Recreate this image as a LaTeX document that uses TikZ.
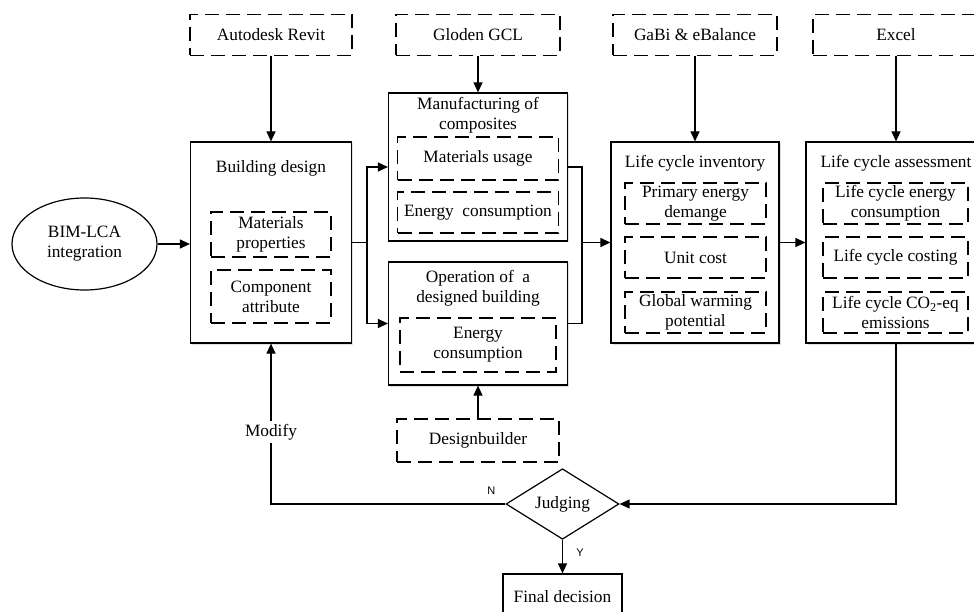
\documentclass[tikz,border=0pt]{standalone}
\usepackage{fontspec}
\setmainfont{Liberation Serif}
\setsansfont{Liberation Sans}
\usetikzlibrary{arrows.meta,shapes.geometric,shadows}

\begin{document}
\begin{tikzpicture}[x=1pt,y=-1pt,>={Triangle[length=10pt,width=9pt]},
                    line width=1.2pt,font=\fontsize{17.3}{20}\selectfont]

  \tikzstyle{tool}=[rectangle,draw,dash pattern=on 14pt off 7pt,minimum height=41pt,inner sep=2pt]
  \tikzstyle{stage}=[rectangle,draw,fill=white,drop shadow={shadow xshift=1.5pt,shadow yshift=-1.5pt,opacity=0.25}]
  \tikzstyle{item}=[rectangle,draw,dash pattern=on 14pt off 7pt,align=center,inner sep=2pt]
  \tikzstyle{title}=[align=center,inner sep=0pt]
  \tikzstyle{yesno}=[font=\sffamily\fontsize{11}{13}\selectfont]

  \useasboundingbox (0,0) rectangle (974,612);
  \clip (0,0) rectangle (974,612);

  % software tools
  \node[tool,minimum width=162pt] (AR) at (271,35) {Autodesk Revit};
  \node[tool,minimum width=164pt] (GG) at (478,35) {Gloden GCL};
  \node[tool,minimum width=164pt] (GE) at (695,35) {GaBi \& eBalance};
  \node[tool,minimum width=166pt] (EX) at (896,35) {Excel};
  \node[tool,minimum width=162pt,minimum height=43pt] (DB) at (478,440.5) {Designbuilder};

  % start
  \node[ellipse,draw,align=center,minimum width=145pt,minimum height=92pt,inner sep=0pt]
       (BL) at (84.5,244) {BIM-LCA\\integration};

  % stages
  \node[stage,minimum width=161pt,minimum height=201pt] (BD)  at (271,242.5) {};
  \node[stage,minimum width=179pt,minimum height=148pt] (MC)  at (478,167)   {};
  \node[stage,minimum width=179pt,minimum height=123pt] (OB)  at (478,323.5) {};
  \node[stage,minimum width=168pt,minimum height=201pt] (LCI) at (695,242.5) {};
  \node[stage,minimum width=180pt,minimum height=201pt] (LCA) at (896,242.5) {};

  \node[title] (BDt)  at (271,168)   {Building design};
  \node[title] (MCt)  at (478,115)   {Manufacturing of\\composites};
  \node[title] (OBt)  at (478,288)   {Operation of\ \ a\\designed building};
  \node[title] (LCIt) at (695,163)   {Life cycle inventory};
  \node[title] (LCAt) at (896,163)   {Life cycle assessment};

  % contents
  \node[item,minimum width=120pt,minimum height=45pt] (BD1) at (271,234.5) {Materials\\properties};
  \node[item,minimum width=120pt,minimum height=53pt] (BD2) at (271,296.5) {Component\\attribute};
  \node[item,minimum width=161pt,minimum height=43pt] (MC1) at (478,158.5) {Materials usage};
  \node[item,minimum width=161pt,minimum height=41pt] (MC2) at (478,212.5) {Energy\ \ consumption};
  \node[item,minimum width=156pt,minimum height=54pt] (OB1) at (478,345)   {Energy\\consumption};

  \node[item,minimum width=141pt,minimum height=41pt] (LCI1) at (695.5,203.5) {Primary energy\\demange};
  \node[item,minimum width=141pt,minimum height=41pt] (LCI2) at (695.5,257.5) {Unit cost};
  \node[item,minimum width=141pt,minimum height=41pt] (LCI3) at (695.5,312.5) {Global warming\\potential};
  \node[item,minimum width=145pt,minimum height=41pt] (LCA1) at (895.5,203.5) {Life cycle energy\\consumption};
  \node[item,minimum width=145pt,minimum height=41pt] (LCA2) at (895.5,257.5) {Life cycle costing};
  \node[item,minimum width=145pt,minimum height=41pt] (LCA3) at (895.5,312.5) {Life cycle CO\textsubscript{2}-eq\\emissions};

  % decision
  \node[diamond,draw,minimum width=113pt,minimum height=54pt,inner sep=0pt] (JG) at (562.5,504) {Judging};
  \node[rectangle,draw,minimum width=119pt,minimum height=46pt] (FD) at (562.5,597) {Final decision};

  \coordinate (S1) at (367,242.5);
  \coordinate (S2) at (582,242.5);

  \path[->]
  (AR) edge (BD)
  (GG) edge (MC)
  (GE) edge (LCI)
  (EX) edge (LCA)
  (DB) edge (OB)
  (LCI) edge (LCA)
  (BL.east) edge (BL.east -| BD.west)
  ;

  \draw (BD.east) -- (S1);
  \draw[->] (S1) |- (MC.west);
  \draw[->] (S1) |- (OB.west);
  \draw (MC.east) -| (S2) |- (OB.east);
  \draw[->] (S2) -- (LCI.west);

  \draw[->] (LCA.south) |- (JG.east);
  \draw[->] (JG.west) -| node[pos=0.724,fill=white,inner sep=3pt] {Modify}
                         node[yesno,pos=0.03,above=6pt] {N} (BD.south);
  \draw[->] (JG.south) -- node[yesno,pos=0.38,right=10pt] {Y} (FD.north);

\end{tikzpicture}
\end{document}
